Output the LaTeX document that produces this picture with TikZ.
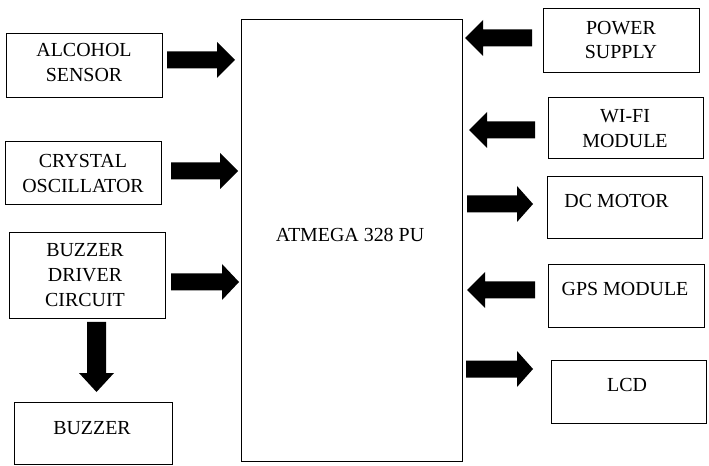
\documentclass[tikz,border=0pt]{standalone}
\usepackage{fontspec}
\setmainfont{Liberation Serif}
\newcommand\myarrowH[4]{% tail x, head base x, tip x, center y
  \fill[blockarrow] (#1,#4-8.5) -- (#2,#4-8.5) -- (#2,#4-18) -- (#3,#4) -- (#2,#4+18) -- (#2,#4+8.5) -- (#1,#4+8.5) -- cycle;}
\newcommand\myarrowV[4]{% tail y, head base y, tip y, center x
  \fill[blockarrow] (#4-9.5,#1) -- (#4-9.5,#2) -- (#4-17.5,#2) -- (#4,#3) -- (#4+17.5,#2) -- (#4+9.5,#2) -- (#4+9.5,#1) -- cycle;}
\begin{document}
\begin{tikzpicture}[x=1bp,y=-1bp,
  box/.style={draw=black,line width=0.8bp,inner sep=0pt,minimum width=#1},
  lbl/.style={font=\fontsize{20}{25}\selectfont,align=center,inner sep=0pt},
  blockarrow/.style={fill=black}]
\useasboundingbox[fill=white] (0,0) rectangle (709,466);
% boxes
\node[box=156bp,minimum height=64bp] (alc) at (84,65) {};
\node[box=156bp,minimum height=63bp] (cry) at (83,172.5) {};
\node[box=156bp,minimum height=86bp] (bdc) at (87,275) {};
\node[box=158bp,minimum height=62bp] (buz) at (93,433) {};
\node[box=221bp,minimum height=442bp] (atm) at (351.5,240) {};
\node[box=156bp,minimum height=64bp] (pow) at (621,40) {};
\node[box=155bp,minimum height=61bp] (wifi) at (625.5,127.5) {};
\node[box=155bp,minimum height=62bp] (dc) at (624.5,207) {};
\node[box=156bp,minimum height=63bp] (gps) at (626,295.5) {};
\node[box=155bp,minimum height=63bp] (lcd) at (628.5,391.5) {};
% texts
\node[lbl] (alcT) at (84,62.5) {ALCOHOL\\SENSOR};
\node[lbl] (cryT) at (83,173.5) {CRYSTAL\\OSCILLATOR};
\node[lbl] (bdcT) at (85,275) {BUZZER\\DRIVER\\CIRCUIT};
\node[lbl] (buzT) at (92,428) {BUZZER};
\node[lbl] (atmT) at (350,234.5) {ATMEGA 328 PU};
\node[lbl] (powT) at (621,40) {POWER\\SUPPLY};
\node[lbl] (wifiT) at (625,128.5) {WI-FI\\MODULE};
\node[lbl] (dcT) at (616.5,201) {DC MOTOR};
\node[lbl] (gpsT) at (625,289.5) {GPS MODULE};
\node[lbl] (lcdT) at (627,384.5) {LCD};
% block arrows
\myarrowH{167}{217}{235}{60}
\myarrowH{171}{220}{238}{171}
\myarrowH{171}{222}{239}{282}
\myarrowH{532}{483}{465}{38}
\myarrowH{535}{487}{469}{130}
\myarrowH{467}{517}{533}{204}
\myarrowH{535}{485}{467}{290}
\myarrowH{466}{517}{533}{369}
\myarrowV{322}{373}{392}{96.5}
\end{tikzpicture}
\end{document}
